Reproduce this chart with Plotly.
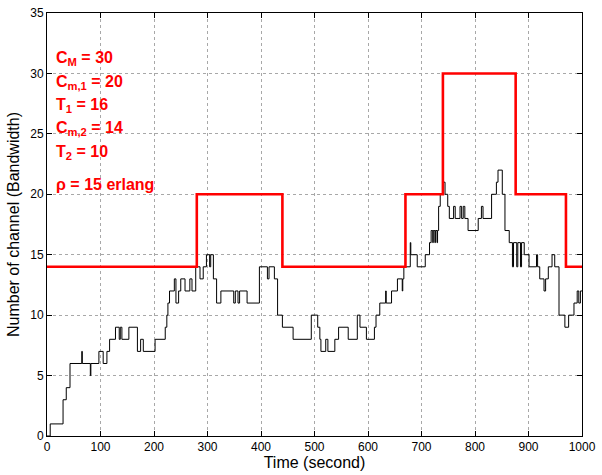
import plotly.graph_objects as go

# Occupied channels over time (step changes: time in seconds, channel count)
occ_time = [0, 6, 30, 36, 43, 65, 66, 81, 82, 97, 105, 112, 117, 128, 135, 137, 140,
            153, 169, 175, 180, 202, 221, 224, 226, 229, 238, 241, 246, 250, 258, 267,
            271, 278, 286, 292, 298, 304, 306, 311, 317, 325, 349, 352, 357, 360, 374,
            397, 412, 415, 425, 431, 440, 460, 494, 506, 510, 512, 521, 525, 538, 545,
            563, 580, 585, 597, 612, 615, 622, 633, 634, 644, 655, 664, 665, 667, 679,
            680, 692, 707, 715, 718, 721, 722, 725, 726, 729, 730, 732, 735, 741, 744,
            749, 752, 760, 763, 772, 775, 778, 781, 787, 806, 812, 815, 831, 840, 843,
            851, 856, 864, 870, 872, 878, 880, 885, 887, 892, 901, 915, 917, 921, 929,
            932, 937, 944, 949, 957, 968, 975, 985, 991, 994, 997, 1000]
occ_chan = [0, 1, 3, 4, 6, 7, 6, 5, 6, 7, 6, 7, 8, 9, 8, 9, 8,
            9, 7, 8, 7, 8, 9, 10, 11, 12, 13, 11, 12, 13, 12, 13,
            12, 14, 13, 14, 15, 14, 15, 13, 11, 12, 11, 12, 11, 12, 11,
            14, 13, 14, 13, 10, 9, 8, 10, 9, 8, 7, 8, 7, 8, 9,
            8, 10, 9, 8, 9, 10, 11, 12, 11, 12, 13, 12, 13, 14, 16,
            15, 14, 15, 16, 17, 16, 17, 16, 17, 16, 17, 19, 20, 21, 20,
            19, 18, 19, 18, 19, 18, 19, 18, 17, 18, 19, 18, 20, 21, 22,
            20, 17, 16, 14, 16, 14, 16, 14, 16, 15, 14, 15, 14, 13, 12,
            13, 14, 15, 14, 10, 9, 10, 11, 12, 11, 12, 12]

# Allocated bandwidth threshold (step changes)
cap_time = [0, 280, 440, 670, 740, 876, 970, 1000]
cap_chan = [14, 20, 14, 20, 30, 20, 14, 14]

# Parameter legend lines
param_lines = [
    "C<sub>M</sub> = 30",
    "C<sub>m,1</sub> = 20",
    "T<sub>1</sub> = 16",
    "C<sub>m,2</sub> = 14",
    "T<sub>2</sub> = 10",
    "ρ = 15 erlang",
]
param_y = [31.25, 29.25, 27.35, 25.45, 23.45, 20.85]

x_ticks = list(range(0, 1001, 100))
y_ticks = list(range(0, 36, 5))

fig = go.Figure()
fig.add_trace(go.Scatter(x=occ_time, y=occ_chan, mode="lines", line_shape="hv",
                         line=dict(color="black", width=1), showlegend=False))
fig.add_trace(go.Scatter(x=cap_time, y=cap_chan, mode="lines", line_shape="hv",
                         line=dict(color="#ff0000", width=2.6), showlegend=False))

for txt, yv in zip(param_lines, param_y):
    fig.add_annotation(x=13, y=yv, xref="x", yref="y", text="<b>" + txt + "</b>",
                       showarrow=False, xanchor="left", yanchor="middle",
                       font=dict(family="Liberation Sans, Arial, sans-serif",
                                 size=16, color="#ff0000"))

axis_common = dict(
    showline=True, linecolor="black", linewidth=1, mirror="allticks",
    ticks="inside", ticklen=5, tickcolor="black",
    showgrid=True, gridcolor="#a8a8a8", griddash="dot", gridwidth=1,
    zeroline=False,
    tickfont=dict(family="Liberation Sans, Arial, sans-serif", size=12, color="black"),
)

fig.update_xaxes(range=[0, 1000], tickvals=x_ticks,
                 title=dict(text="Time (second)", standoff=2,
                            font=dict(family="Liberation Sans, Arial, sans-serif",
                                      size=16, color="black")),
                 **axis_common)
fig.update_yaxes(range=[0, 35], tickvals=y_ticks,
                 title=dict(text="Number of channel (Bandwidth)", standoff=6,
                            font=dict(family="Liberation Sans, Arial, sans-serif",
                                      size=16, color="black")),
                 **axis_common)

fig.update_layout(
    width=602, height=475,
    margin=dict(l=47, r=14, t=6, b=39),
    plot_bgcolor="white", paper_bgcolor="white",
)

fig.write_html("out.html")
